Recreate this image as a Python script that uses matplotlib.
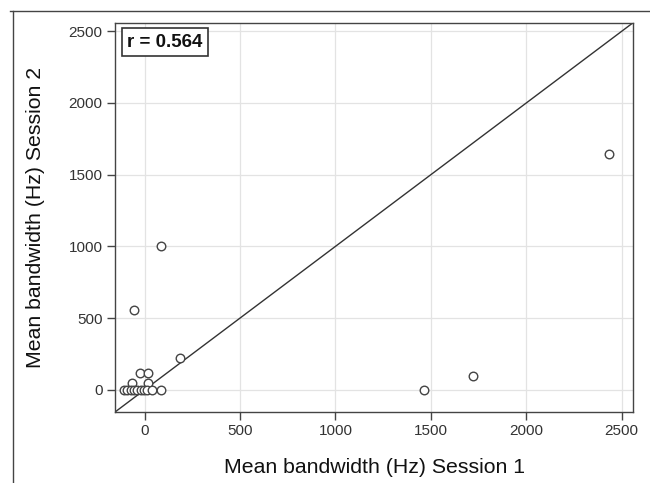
import matplotlib
matplotlib.use("Agg")
import matplotlib.pyplot as plt
from matplotlib.lines import Line2D

plt.rcParams['font.family'] = ['Liberation Sans', 'DejaVu Sans']

# Data (Session 1 vs Session 2 mean bandwidth, Hz)
session1 = [2435, 1720, 1462, 85, -58, 188, -25, 17, -64, 19,
            -108, -91, -73, -56, -38, -21, -3, 14, 40, 84]
session2 = [1645, 95, 0, 1000, 556, 225, 120, 115, 44, 44,
            0, 0, 0, 0, 0, 0, 0, 0, 0, 0]
ticks = [0, 500, 1000, 1500, 2000, 2500]
r_text = "r = 0.564"
xlabel = "Mean bandwidth (Hz) Session 1"
ylabel = "Mean bandwidth (Hz) Session 2"

fig = plt.figure(figsize=(6.5, 4.83), dpi=100)
ax = fig.add_axes([0.177, 0.147, 0.797, 0.806])

lo, hi = -155, 2560
ax.set_xlim(lo, hi)
ax.set_ylim(lo, hi)
ax.set_xticks(ticks)
ax.set_yticks(ticks)
ax.grid(True, color='#e3e3e3', linewidth=0.9)
ax.set_axisbelow(True)

ax.plot([lo, hi], [lo, hi], color='#333333', linewidth=1.0, zorder=2)
ax.scatter(session1, session2, s=38, facecolors='white', edgecolors='#444444',
           linewidths=1.0, zorder=3)

for sp in ax.spines.values():
    sp.set_color('#444444')
    sp.set_linewidth(1.0)
ax.tick_params(direction='out', length=6, width=1, color='#444444',
               labelsize=11, labelcolor='#333333', pad=3)

ax.set_xlabel(xlabel, fontsize=15.3, color='#111111', labelpad=14)
ax.set_ylabel(ylabel, fontsize=15.3, color='#111111', labelpad=17)

ax.text(0.024, 0.972, r_text, transform=ax.transAxes, ha='left', va='top',
        fontsize=13.5, fontweight='bold', color='#111111',
        bbox=dict(boxstyle='square,pad=0.3', facecolor='white',
                  edgecolor='#333333', linewidth=1.2))

# outer frame lines
fig.add_artist(Line2D([10/650, 1.0], [1 - 10.5/483, 1 - 10.5/483],
                      transform=fig.transFigure, color='#444444', linewidth=1.0))
fig.add_artist(Line2D([13/650, 13/650], [0, 1 - 10.5/483],
                      transform=fig.transFigure, color='#444444', linewidth=1.0))

fig.savefig("out.png", dpi=100)
